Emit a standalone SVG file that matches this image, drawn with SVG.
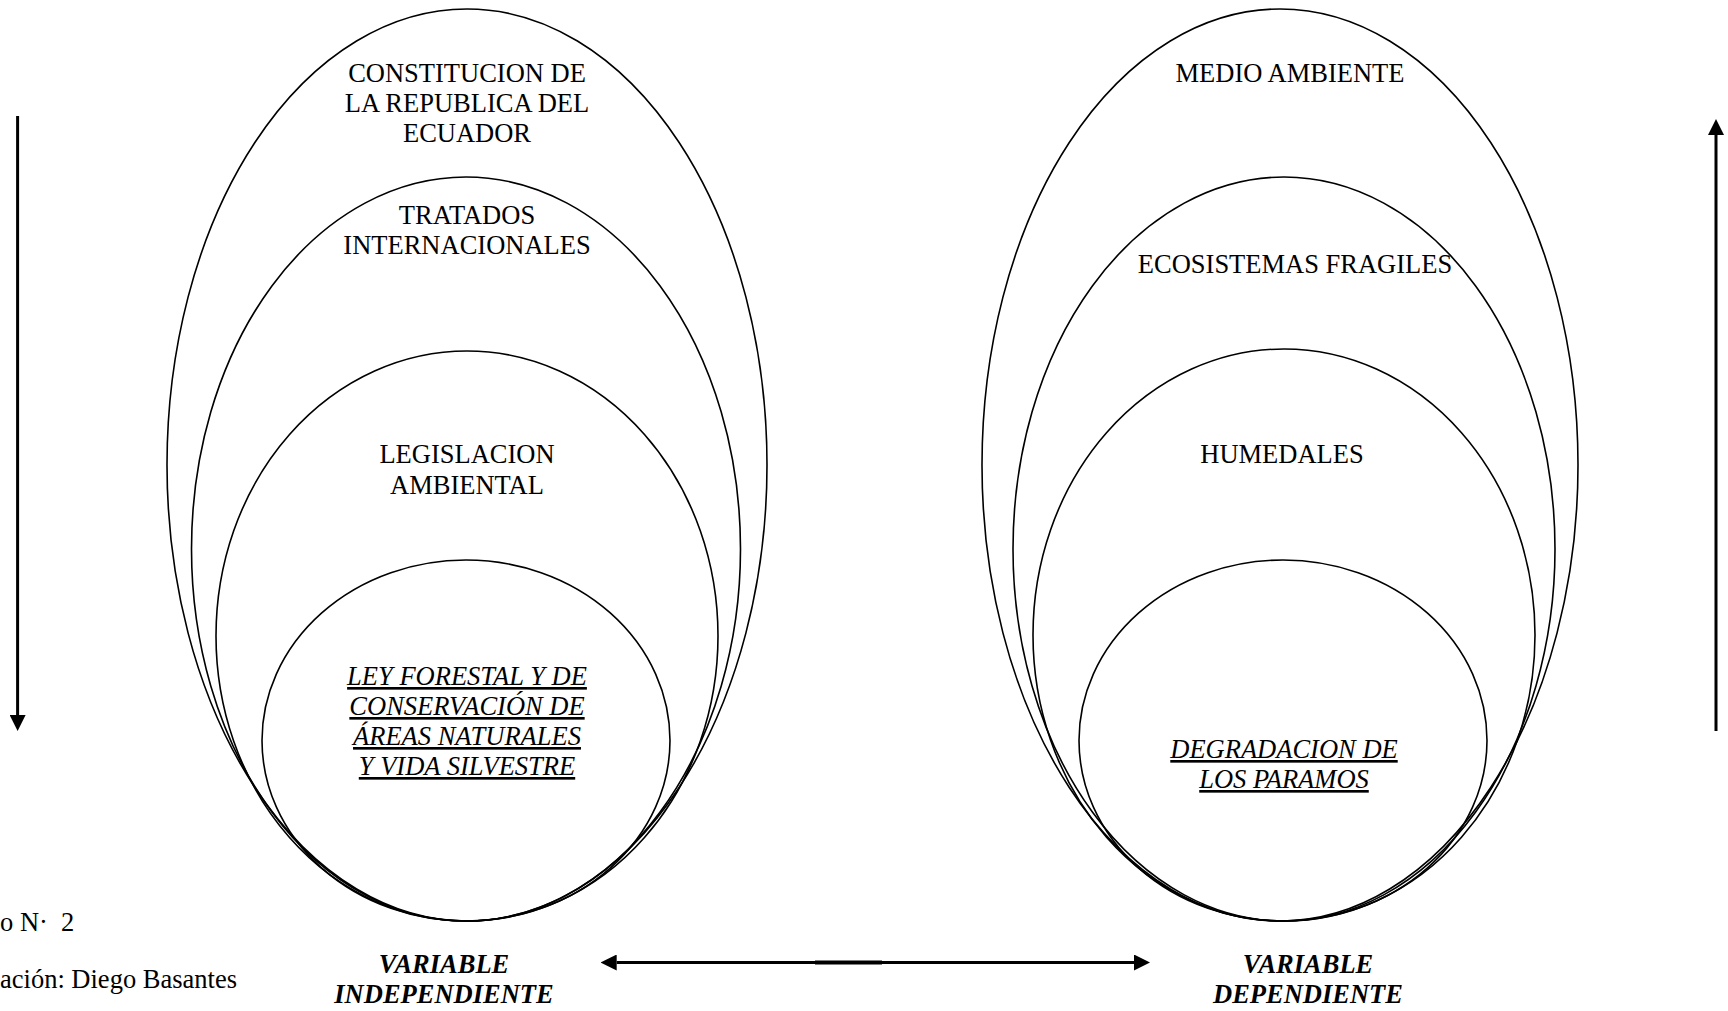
<svg xmlns="http://www.w3.org/2000/svg" width="1728" height="1011" viewBox="0 0 1728 1011">
<style>
.ell{fill:none;stroke:#000;stroke-width:1.6}
.t{font-family:"Liberation Serif","Times New Roman",serif;font-size:26.5px;fill:#000;text-anchor:middle}
.u{font-style:italic;text-decoration:underline;text-decoration-thickness:2px}
.v{font-style:italic;font-weight:bold}
.cap{font-family:"Liberation Serif","Times New Roman",serif;font-size:26.5px;fill:#000;white-space:pre}
.ar{stroke:#000;stroke-width:3;fill:none}
</style>
<defs>
<marker id="ah" viewBox="0 0 16 16" refX="0" refY="8" markerWidth="16" markerHeight="16" markerUnits="userSpaceOnUse" orient="auto-start-reverse">
<path d="M0,0 L16,8 L0,16 Z" fill="#000"/>
</marker>
</defs>
<rect width="1728" height="1011" fill="#fff"/>
<g id="constitucion">
<ellipse class="ell" cx="467" cy="465" rx="300" ry="456"/>
<text class="t" x="467" y="82">CONSTITUCION DE</text>
<text class="t" x="467" y="112">LA REPUBLICA DEL</text>
<text class="t" x="467" y="142">ECUADOR</text>
</g>
<g id="tratados">
<ellipse class="ell" cx="466" cy="549" rx="274.5" ry="372"/>
<text class="t" x="467" y="224">TRATADOS</text>
<text class="t" x="467" y="254">INTERNACIONALES</text>
</g>
<g id="legislacion">
<ellipse class="ell" cx="467" cy="636" rx="251" ry="285"/>
<text class="t" x="467" y="463">LEGISLACION</text>
<text class="t" x="467" y="494">AMBIENTAL</text>
</g>
<g id="ley-forestal">
<ellipse class="ell" cx="466" cy="740.5" rx="204" ry="180.5"/>
<text class="t u" x="467" y="685">LEY FORESTAL Y DE</text>
<text class="t u" x="467" y="715">CONSERVACIÓN DE</text>
<text class="t u" x="467" y="745">ÁREAS NATURALES</text>
<text class="t u" x="467" y="775">Y VIDA SILVESTRE</text>
</g>
<g id="medio-ambiente">
<ellipse class="ell" cx="1280" cy="465" rx="298" ry="456"/>
<text class="t" x="1290" y="82">MEDIO AMBIENTE</text>
</g>
<g id="ecosistemas">
<ellipse class="ell" cx="1284" cy="549" rx="271" ry="372"/>
<text class="t" x="1295" y="273">ECOSISTEMAS FRAGILES</text>
</g>
<g id="humedales">
<ellipse class="ell" cx="1284" cy="635" rx="251" ry="286"/>
<text class="t" x="1282" y="463">HUMEDALES</text>
</g>
<g id="degradacion">
<ellipse class="ell" cx="1283" cy="740.5" rx="204" ry="180.5"/>
<text class="t u" x="1284" y="758">DEGRADACION DE</text>
<text class="t u" x="1284" y="788">LOS PARAMOS</text>
</g>
<g id="var-independiente">
<text class="t v" x="444" y="973">VARIABLE</text>
<text class="t v" x="444" y="1003">INDEPENDIENTE</text>
</g>
<g id="var-dependiente">
<text class="t v" x="1308" y="973">VARIABLE</text>
<text class="t v" x="1308" y="1003">DEPENDIENTE</text>
</g>
<g id="caption">
<text class="cap" x="0" y="931">o N·  2</text>
<text class="cap" x="0" y="988">ación: Diego Basantes</text>
</g>
<g id="connectors">
<line class="ar" x1="616.7" y1="962.5" x2="1134" y2="962.5" marker-start="url(#ah)" marker-end="url(#ah)"/>
<line x1="815" y1="962.5" x2="882" y2="962.5" stroke="#000" stroke-width="4"/>
<line class="ar" x1="17.6" y1="116" x2="17.6" y2="715" marker-end="url(#ah)"/>
<line class="ar" x1="1716" y1="731" x2="1716" y2="135" marker-end="url(#ah)"/>
</g>
</svg>
